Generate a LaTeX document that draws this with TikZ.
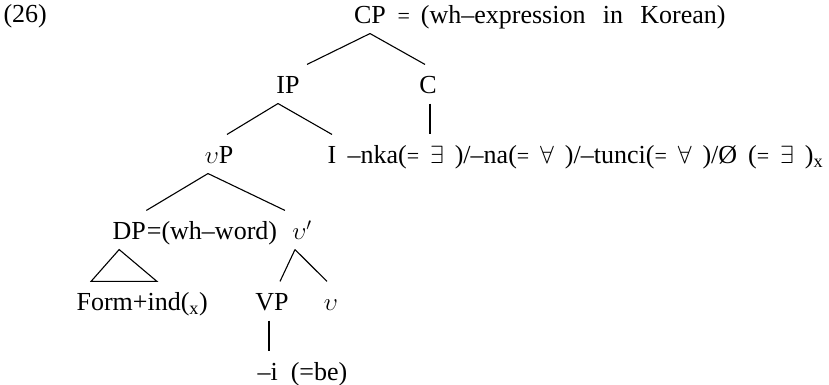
\documentclass[tikz,border=0pt]{standalone}
\usepackage{fontspec}
\setmainfont{Liberation Serif}
\newcommand{\smeq}{{\fontsize{22}{22}\selectfont =}}
\newcommand{\gap}{\hspace{0.42em}}

\begin{document}
\begin{tikzpicture}[x=1pt, y=1pt, line width=1.1pt,
    every node/.style={font=\fontsize{26}{30}\selectfont, inner sep=0pt, text height=29pt, text depth=9pt}]
  \useasboundingbox (0,0) rectangle (829,385);
  \node[anchor=base west] (ex) at (3,362) {(26)};
  % CP and its two daughters
  \node[anchor=base] (cp) at (370,361) {CP};
  \node[anchor=base west] (cpnote) at (397,361) {\smeq\gap(wh--expression\ \ \,in\ \ \,Korean)};
  \node[anchor=base] (ip) at (288,291) {IP};
  \node[anchor=base] (c) at (428,291) {C};
  \draw (cp.south) -- ([xshift=19pt]ip.north);
  \draw (cp.south) -- ([xshift=-3pt]c.north);
  % IP level
  \node[anchor=base] (vp) at (219,221) {$\upsilon$P};
  \node[anchor=base] (i) at (332,221) {I};
  \node[anchor=base west] (nka) at (347,221) {--nka(\smeq\gap$\exists$\gap)/--na(\smeq\gap$\forall$\gap)/--tunci(\smeq\gap$\forall$\gap)/Ø\gap(\smeq\gap$\exists$\gap)\textsubscript{x}};
  \draw ([xshift=-10pt]ip.south) -- ([xshift=8pt]vp.north);
  \draw ([xshift=-10pt]ip.south) -- (i.north);
  \draw ([xshift=2pt]c.south) -- ([xshift=2pt]c.south |- nka.north);
  % vP level
  \node[anchor=base west] (dp) at (112,145) {DP};
  \node[anchor=base west] (dpnote) at (dp.base east) {=(wh--word)};
  \node[anchor=base] (vbar) at (302,145) {$\upsilon'$};
  \draw ([xshift=-11pt]vp.south) -- (dp.north east);
  \draw ([xshift=-11pt]vp.south) -- ([xshift=-17pt]vbar.north);
  % lowest level
  \node[anchor=base west] (form) at (76,74) {Form+ind(\textsubscript{x})};
  \node[anchor=base] (vpp) at (272,74) {VP};
  \node[anchor=base] (v) at (331,74) {$\upsilon$};
  \node[anchor=base west] (be) at (257,4) {--i\ \ (=be)};
  \draw ([xshift=-10pt]dp.south) -- ([xshift=15pt]form.north west) -- ([xshift=81pt]form.north west) -- cycle;
  \draw ([xshift=-7pt]vbar.south) -- ([xshift=8pt]vpp.north);
  \draw ([xshift=-7pt]vbar.south) -- ([xshift=-4pt]v.north);
  \draw ([xshift=-3pt]vpp.south) -- ([xshift=-3pt]vpp.south |- be.north);
\end{tikzpicture}
\end{document}
